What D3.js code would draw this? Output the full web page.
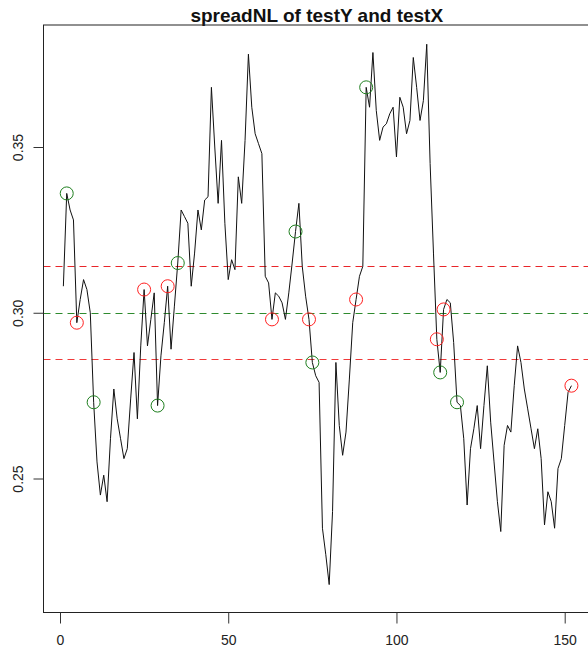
<!DOCTYPE html>
<html>
<head>
<meta charset="utf-8">
<script src="https://cdn.jsdelivr.net/npm/d3@7"></script>
<style>
  body { margin: 0; background: #fff; }
  svg { display: block; font-family: "Liberation Sans", Arial, sans-serif; }
</style>
</head>
<body>
<svg id="chart" width="588" height="649"></svg>
<script>
  // spread series, index 1..152
  var spreadValues = [
    0.308, 0.336, 0.331, 0.328, 0.297, 0.304, 0.310, 0.307, 0.300, 0.273,
    0.255, 0.245, 0.251, 0.243, 0.262, 0.277, 0.268, 0.262, 0.256, 0.259,
    0.274, 0.288, 0.268, 0.290, 0.307, 0.290, 0.298, 0.306, 0.272, 0.287,
    0.297, 0.308, 0.289, 0.302, 0.315, 0.331, 0.329, 0.327, 0.308, 0.318,
    0.331, 0.325, 0.334, 0.335, 0.368, 0.350, 0.333, 0.352, 0.327, 0.310,
    0.316, 0.313, 0.341, 0.333, 0.352, 0.378, 0.362, 0.354, 0.351, 0.348,
    0.311, 0.309, 0.298, 0.306, 0.305, 0.303, 0.298, 0.306, 0.315, 0.3245,
    0.333, 0.314, 0.305, 0.298, 0.285, 0.281, 0.279, 0.235, 0.227, 0.218,
    0.240, 0.285, 0.266, 0.257, 0.264, 0.280, 0.297, 0.304, 0.311, 0.314,
    0.368, 0.362, 0.3785, 0.361, 0.352, 0.356, 0.357, 0.360, 0.362, 0.347,
    0.365, 0.362, 0.354, 0.358, 0.377, 0.368, 0.358, 0.364, 0.381, 0.345,
    0.318, 0.292, 0.282, 0.301, 0.304, 0.303, 0.291, 0.273, 0.272, 0.262,
    0.242, 0.259, 0.265, 0.272, 0.259, 0.272, 0.284, 0.267, 0.255, 0.243,
    0.234, 0.260, 0.266, 0.264, 0.278, 0.290, 0.285, 0.277, 0.271, 0.265,
    0.259, 0.265, 0.256, 0.236, 0.246, 0.243, 0.235, 0.253, 0.256, 0.266,
    0.276, 0.278
  ];
  // indices marked with circles
  var greenIdx = [2, 10, 29, 35, 70, 75, 91, 113, 118];
  var redIdx = [5, 25, 32, 63, 74, 88, 112, 114, 152];
  // horizontal reference levels
  var levelValues = [0.314, 0.300, 0.286];
  var levelColors = ["#e8262a", "#2e8b2e", "#f03a3a"];
  var xTicks = [0, 50, 100, 150];
  var yTicks = [0.25, 0.30, 0.35];
  var titleText = "spreadNL of testY and testX";

  var svg = d3.select("#chart");
  var box = {left: 43.5, top: 25, right: 590, bottom: 612.5};

  var x = d3.scaleLinear().domain([0, 150]).range([60, 564.7]);
  var y = d3.scaleLinear().domain([0.25, 0.35]).range([478.5, 147]);

  var points = spreadValues.map(function(v, i) { return {i: i + 1, v: v}; });

  // title
  svg.append("text")
      .attr("x", (box.left + box.right) / 2)
      .attr("y", 22)
      .attr("text-anchor", "middle")
      .style("font-size", "19px")
      .style("font-weight", "bold")
      .attr("fill", "#111")
      .text(titleText);

  // dashed levels
  svg.selectAll(".level")
      .data(levelValues)
      .enter().append("line")
      .attr("class", "level")
      .attr("x1", box.left)
      .attr("x2", box.right)
      .attr("y1", function(d) { return Math.round(y(d)) + 0.5; })
      .attr("y2", function(d) { return Math.round(y(d)) + 0.5; })
      .style("stroke", function(d, i) { return levelColors[i]; })
      .style("stroke-width", 1)
      .style("stroke-dasharray", "7,5");

  // series line
  var line = d3.line()
      .x(function(d) { return x(d.i); })
      .y(function(d) { return y(d.v); });

  svg.append("path")
      .datum(points)
      .attr("d", line)
      .attr("fill", "none")
      .attr("stroke", "#111")
      .attr("stroke-width", 1);

  // circles
  function drawCircles(idx, color) {
    svg.selectAll(null)
        .data(idx.map(function(i) { return points[i - 1]; }))
        .enter().append("circle")
        .attr("cx", function(d) { return x(d.i); })
        .attr("cy", function(d) { return y(d.v); })
        .attr("r", 6.5)
        .attr("fill", "none")
        .attr("stroke", color)
        .attr("stroke-width", 1);
  }
  drawCircles(greenIdx, "#1f7f1f");
  drawCircles(redIdx, "#ff2020");

  // box
  svg.append("rect")
      .attr("x", box.left)
      .attr("y", box.top)
      .attr("width", box.right - box.left)
      .attr("height", box.bottom - box.top)
      .attr("fill", "none")
      .attr("stroke", "#222")
      .attr("stroke-width", 1);

  // axes
  var xAxis = d3.axisBottom(x)
      .tickValues(xTicks)
      .tickSize(11)
      .tickPadding(12)
      .tickFormat(d3.format("d"));
  var gx = svg.append("g")
      .attr("transform", "translate(0," + box.bottom + ")")
      .call(xAxis);
  gx.select(".domain").remove();
  gx.selectAll(".tick line").attr("stroke", "#333");
  gx.selectAll(".tick text")
      .style("font-size", "14px")
      .style("font-family", "Liberation Sans, Arial, sans-serif")
      .attr("fill", "#222");

  var yAxis = d3.axisLeft(y)
      .tickValues(yTicks)
      .tickSize(10)
      .tickFormat(d3.format(".2f"));
  var gy = svg.append("g")
      .attr("transform", "translate(" + box.left + ",0)")
      .call(yAxis);
  gy.select(".domain").remove();
  gy.selectAll(".tick line").attr("stroke", "#333");
  gy.selectAll(".tick text")
      .attr("x", 0)
      .attr("dy", 0)
      .attr("text-anchor", "middle")
      .attr("transform", "translate(-21,0) rotate(-90)")
      .style("font-size", "14px")
      .style("font-family", "Liberation Sans, Arial, sans-serif")
      .attr("fill", "#222");
</script>
</body>
</html>
